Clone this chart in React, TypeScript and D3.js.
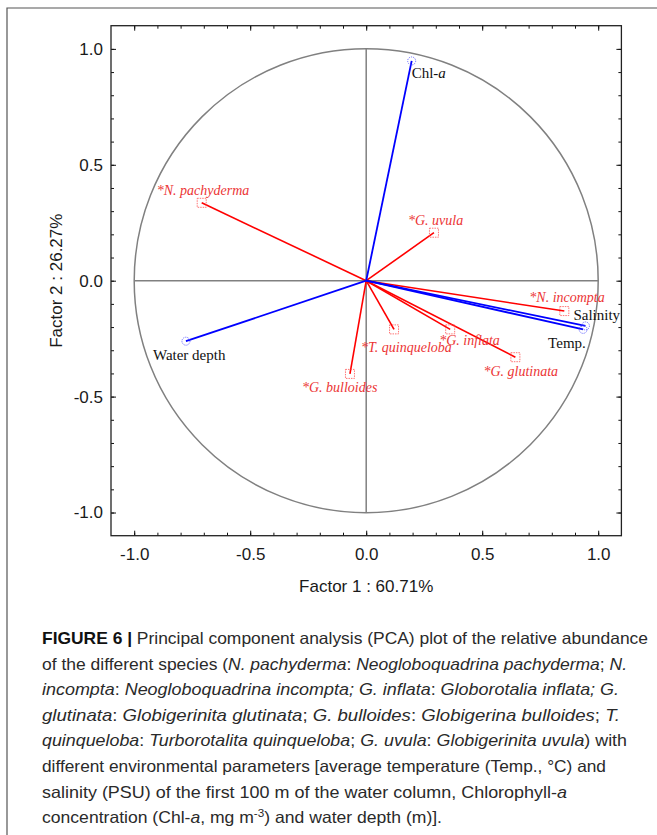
import * as d3 from "d3";
import { useEffect, useRef } from "react";

// environmental parameters (blue vectors)
const envNames = ["Chl-a", "Water depth", "Salinity", "Temp."];
const envF1 = [0.196, -0.777, 0.945, 0.935];
const envF2 = [0.948, -0.261, -0.195, -0.21];

// species (red vectors)
const speciesNames = [
  "N. pachyderma",
  "G. uvula",
  "N. incompta",
  "G. inflata",
  "T. quinqueloba",
  "G. glutinata",
  "G. bulloides",
];
const speciesF1 = [-0.709, 0.292, 0.854, 0.362, 0.12, 0.643, -0.07];
const speciesF2 = [0.336, 0.207, -0.131, -0.21, -0.21, -0.33, -0.402];

const majorTicks = [-1.0, -0.5, 0.0, 0.5, 1.0];
const xTitle = "Factor 1 : 60.71%";
const yTitle = "Factor 2 : 26.27%";

// label offsets from marker (left of text, baseline)
const envLabelOffset: [number, number][] = [
  [0, 17],
  [-33, 19],
  [-12, -6],
  [-35, 19],
];
const speciesLabelOffset: [number, number][] = [
  [-45, -8],
  [-26, -8],
  [-35, -9],
  [-11, 16],
  [-33, 23],
  [-32, 19],
  [-48, 18],
];

type Seg = [string, string];
const caption: Seg[][] = [
  [["FIGURE 6 |", "b"], [" Principal component analysis (PCA) plot of the relative abundance", "n"]],
  [["of the different species (", "n"], ["N. pachyderma", "i"], [": ", "n"], ["Neogloboquadrina pachyderma", "i"], ["; ", "n"], ["N.", "i"]],
  [["incompta", "i"], [": ", "n"], ["Neogloboquadrina incompta; G. inflata", "i"], [": ", "n"], ["Globorotalia inflata; G.", "i"]],
  [["glutinata", "i"], [": ", "n"], ["Globigerinita glutinata", "i"], ["; ", "n"], ["G. bulloides", "i"], [": ", "n"], ["Globigerina bulloides", "i"], ["; ", "n"], ["T.", "i"]],
  [["quinqueloba", "i"], [": ", "n"], ["Turborotalita quinqueloba", "i"], ["; ", "n"], ["G. uvula", "i"], [": ", "n"], ["Globigerinita uvula", "i"], [") with", "n"]],
  [["different environmental parameters [average temperature (Temp., °C) and", "n"]],
  [["salinity (PSU) of the first 100 m of the water column, Chlorophyll-", "n"], ["a", "i"]],
  [["concentration (Chl-", "n"], ["a", "i"], [", mg m", "n"], ["-3", "sup"], [") and water depth (m)].", "n"]],
];
const captionWidths = [606, 585, 577, 578, 585, 564, 525, 400];

export default function App() {
  const ref = useRef<SVGSVGElement | null>(null);

  useEffect(() => {
    const svg = d3.select(ref.current);
    svg.selectAll("*").remove();

    const x = d3.scaleLinear().domain([-1.1, 1.1]).range([111, 621.4]);
    const y = d3.scaleLinear().domain([-1.1, 1.1]).range([535.7, 25.7]);
    const minorTicks = d3.range(-10, 11).map((i) => i / 10);
    const fmt = (d: any) => (+d).toFixed(1);
    const sans = "'Liberation Sans', Arial, sans-serif";
    const serif = "'Liberation Serif', 'Times New Roman', serif";

    // outer figure border
    svg.append("path").attr("d", "M7,835V8H657").attr("fill", "none").attr("stroke", "#555").attr("stroke-width", 1.2);

    // unit circle and cross
    svg
      .append("circle")
      .attr("cx", x(0))
      .attr("cy", y(0))
      .attr("r", x(1) - x(0))
      .attr("fill", "none")
      .attr("stroke", "#808080")
      .attr("stroke-width", 1.5);
    svg.append("line").attr("x1", x(-1)).attr("x2", x(1)).attr("y1", y(0)).attr("y2", y(0)).attr("stroke", "#808080").attr("stroke-width", 1.5);
    svg.append("line").attr("x1", x(0)).attr("x2", x(0)).attr("y1", y(-1)).attr("y2", y(1)).attr("stroke", "#808080").attr("stroke-width", 1.5);

    // axes with inward ticks on all four sides
    const addAxis = (axis: any, tr: string, labels: boolean, pad: number) => {
      const g = svg.append("g").attr("transform", tr);
      g.call(axis.tickValues(minorTicks).tickSize(-3).tickFormat(() => ""));
      g.select(".domain").remove();
      const g2 = svg.append("g").attr("transform", tr);
      g2.call(
        axis
          .tickValues(majorTicks)
          .tickSize(-5)
          .tickPadding(pad)
          .tickFormat(labels ? fmt : () => "")
      );
      g2.select(".domain").remove();
      g2.selectAll("text").attr("font-family", sans).attr("font-size", 17).attr("fill", "#1a1a1a");
      svg.selectAll(".tick line").attr("stroke", "#111");
    };
    addAxis(d3.axisBottom(x), `translate(0,${y(-1.1)})`, true, 12);
    addAxis(d3.axisTop(x), `translate(0,${y(1.1)})`, false, 3);
    addAxis(d3.axisLeft(y), `translate(${x(-1.1)},0)`, true, 8);
    addAxis(d3.axisRight(y), `translate(${x(1.1)},0)`, false, 3);

    // frame
    svg
      .append("rect")
      .attr("x", x(-1.1))
      .attr("y", y(1.1))
      .attr("width", x(1.1) - x(-1.1))
      .attr("height", y(-1.1) - y(1.1))
      .attr("fill", "none")
      .attr("stroke", "#222")
      .attr("stroke-width", 1.3);

    // species vectors
    const sp = speciesNames.map((n, i) => ({ n, f1: speciesF1[i], f2: speciesF2[i], o: speciesLabelOffset[i] }));
    svg
      .append("g")
      .selectAll("line")
      .data(sp)
      .join("line")
      .attr("x1", x(0))
      .attr("y1", y(0))
      .attr("x2", (d) => x(d.f1))
      .attr("y2", (d) => y(d.f2))
      .attr("stroke", "#ff0000")
      .attr("stroke-width", 1.6);
    svg
      .append("g")
      .selectAll("rect")
      .data(sp)
      .join("rect")
      .attr("x", (d) => x(d.f1) - 4.5)
      .attr("y", (d) => y(d.f2) - 4.5)
      .attr("width", 9)
      .attr("height", 9)
      .attr("fill", "none")
      .attr("stroke", "#ff5050")
      .attr("stroke-width", 0.8)
      .attr("stroke-dasharray", "1.5,1");
    svg
      .append("g")
      .selectAll("text")
      .data(sp)
      .join("text")
      .attr("x", (d) => x(d.f1) + d.o[0])
      .attr("y", (d) => y(d.f2) + d.o[1])
      .attr("font-family", serif)
      .attr("font-style", "italic")
      .attr("font-size", 14)
      .attr("fill", "#ec3535")
      .text((d) => "*" + d.n);

    // environmental vectors
    const env = envNames.map((n, i) => ({ n, f1: envF1[i], f2: envF2[i], o: envLabelOffset[i] }));
    svg
      .append("g")
      .selectAll("line")
      .data(env)
      .join("line")
      .attr("x1", x(0))
      .attr("y1", y(0))
      .attr("x2", (d) => x(d.f1))
      .attr("y2", (d) => y(d.f2))
      .attr("stroke", "#0000ff")
      .attr("stroke-width", 1.8);
    svg
      .append("g")
      .selectAll("circle")
      .data(env)
      .join("circle")
      .attr("cx", (d) => x(d.f1))
      .attr("cy", (d) => y(d.f2))
      .attr("r", 4)
      .attr("fill", "none")
      .attr("stroke", "#4d4dff")
      .attr("stroke-width", 0.8)
      .attr("stroke-dasharray", "1.2,1");
    const envText = svg
      .append("g")
      .selectAll("text")
      .data(env)
      .join("text")
      .attr("x", (d) => x(d.f1) + d.o[0])
      .attr("y", (d) => y(d.f2) + d.o[1])
      .attr("font-family", serif)
      .attr("font-size", 15)
      .attr("fill", "#111");
    envText.each(function (d) {
      const t = d3.select(this);
      if (d.n === "Chl-a") {
        t.append("tspan").text("Chl-");
        t.append("tspan").attr("font-style", "italic").text("a");
      } else t.text(d.n);
    });

    // axis titles
    svg
      .append("text")
      .attr("x", x(0))
      .attr("y", 592)
      .attr("text-anchor", "middle")
      .attr("font-family", sans)
      .attr("font-size", 17)
      .attr("fill", "#1a1a1a")
      .text(xTitle);
    svg
      .append("text")
      .attr("transform", `translate(62,${y(0)}) rotate(-90)`)
      .attr("text-anchor", "middle")
      .attr("font-family", sans)
      .attr("font-size", 17)
      .attr("fill", "#1a1a1a")
      .text(yTitle);

    // caption
    caption.forEach((line, i) => {
      const t = svg
        .append("text")
        .attr("x", 42)
        .attr("y", 644 + i * 25.6)
        .attr("font-family", sans)
        .attr("font-size", 16.5)
        .attr("fill", "#2a2a2a")
        .attr("textLength", captionWidths[i])
        .attr("lengthAdjust", "spacingAndGlyphs");
      line.forEach(([s, st]) => {
        const ts = t.append("tspan").text(s);
        if (st === "b") ts.attr("font-weight", "bold").attr("fill", "#111");
        if (st === "i") ts.attr("font-style", "italic");
        if (st === "sup") ts.attr("font-size", 11).attr("dy", -6);
        if (st === "n" && s.startsWith(")") && i === 7) ts.attr("dy", 6);
      });
    });
  }, []);

  return (
    <svg
      ref={ref}
      width={657}
      height={835}
      style={{ position: "absolute", left: 0, top: 0, background: "#fff" }}
    />
  );
}
